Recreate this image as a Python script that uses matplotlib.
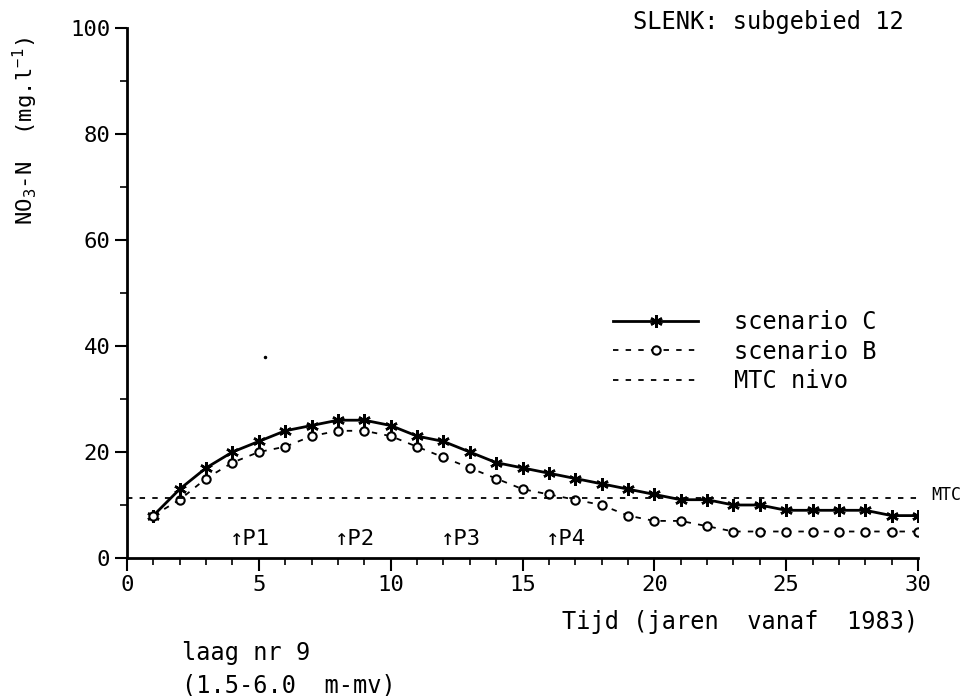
import matplotlib
matplotlib.use('Agg')
import matplotlib.pyplot as plt
from matplotlib.lines import Line2D

# jaren vanaf 1983
jaren = list(range(1, 31))
scenario_c = [8, 13, 17, 20, 22, 24, 25, 26, 26, 25, 23, 22, 20, 18, 17,
              16, 15, 14, 13, 12, 11, 11, 10, 10, 9, 9, 9, 9, 8, 8]
scenario_b = [8, 11, 15, 18, 20, 21, 23, 24, 24, 23, 21, 19, 17, 15, 13,
              12, 11, 10, 8, 7, 7, 6, 5, 5, 5, 5, 5, 5, 5, 5]
mtc_nivo = 11.3
p_jaren = [4, 8, 12, 16]
p_labels = ['P1', 'P2', 'P3', 'P4']

# plotter-achtig lettertype, breed
plt.rcParams['font.family'] = ['DejaVu Sans Mono', 'DejaVu Sans']
plt.rcParams['mathtext.fontset'] = 'custom'
plt.rcParams['mathtext.rm'] = 'DejaVu Sans Mono'
plt.rcParams['mathtext.it'] = 'DejaVu Sans Mono'
plt.rcParams['mathtext.default'] = 'rm'
fs = 16

fig = plt.figure(figsize=(9.73, 6.96), dpi=100)
ax = fig.add_axes([127 / 973, 138 / 696, (918 - 127) / 973, (558 - 28) / 696])

# lijnen
ax.plot(jaren, scenario_c, color='black', linewidth=2, marker=(6, 2, 0),
        markersize=9, markeredgewidth=1.8)
ax.plot(jaren, scenario_b, color='black', linewidth=1.3, linestyle=(0, (3, 4)),
        marker='o', markersize=6, markerfacecolor='white', markeredgewidth=1.5)
ax.axhline(mtc_nivo, color='black', linewidth=1.3, linestyle=(0, (3, 4)))

# losse stip
ax.plot([5.25], [38], 'k.', markersize=3)

# P-markeringen
for x, lab in zip(p_jaren, p_labels):
    ax.text(x - 0.1, 3.6, '\u2191' + lab, ha='left', va='center', fontsize=fs)

ax.text(30.5, mtc_nivo + 0.6, 'MTC', ha='left', va='center', fontsize=12,
        clip_on=False)

ax.set_xlim(0, 30)
ax.set_ylim(0, 100)
ax.set_xticks(range(0, 31, 5))
ax.set_xticks(range(0, 31), minor=True)
ax.set_yticks(range(0, 101, 20))
ax.set_yticks(range(10, 100, 20), minor=True)
ax.spines['top'].set_visible(False)
ax.spines['right'].set_visible(False)
ax.spines['left'].set_linewidth(2)
ax.spines['bottom'].set_linewidth(2)
ax.tick_params(axis='both', which='major', direction='out', length=9, width=1.5,
               labelsize=fs, pad=3)
ax.tick_params(axis='both', which='minor', direction='out', length=5, width=1.2)

# legenda
handles = [
    Line2D([], [], color='black', linewidth=2, marker=(6, 2, 0), markersize=9,
           markeredgewidth=1.8),
    Line2D([], [], color='black', linewidth=1.3, linestyle=(0, (3, 4)), marker='o',
           markersize=6, markerfacecolor='white', markeredgewidth=1.5),
    Line2D([], [], color='black', linewidth=1.3, linestyle=(0, (3, 4))),
]
ax.legend(handles, ['scenario C', 'scenario B', 'MTC nivo'], loc='upper left',
          bbox_to_anchor=(604 / 973, 1 - 301 / 696), bbox_transform=fig.transFigure,
          frameon=False, fontsize=fs + 1, handlelength=3.6, handletextpad=1.5,
          labelspacing=0.22, borderaxespad=0)

# teksten
fig.text(25 / 973, 1 - 131 / 696, 'NO$_3$-N  (mg.l$^{-1}$)', rotation=90,
         ha='center', va='center', fontsize=fs)
fig.text(904 / 973, 1 - 22 / 696, 'SLENK: subgebied 12', ha='right', va='center',
         fontsize=fs + 1)
fig.text(918 / 973, 1 - 622 / 696, 'Tijd (jaren  vanaf  1983)', ha='right',
         va='center', fontsize=fs + 1)
fig.text(182 / 973, 1 - 653 / 696, 'laag nr 9', ha='left', va='center',
         fontsize=fs + 1)
fig.text(182 / 973, 1 - 685 / 696, '(1.5-6.0  m-mv)', ha='left', va='center',
         fontsize=fs + 1)

fig.savefig('out.png', dpi=100)
